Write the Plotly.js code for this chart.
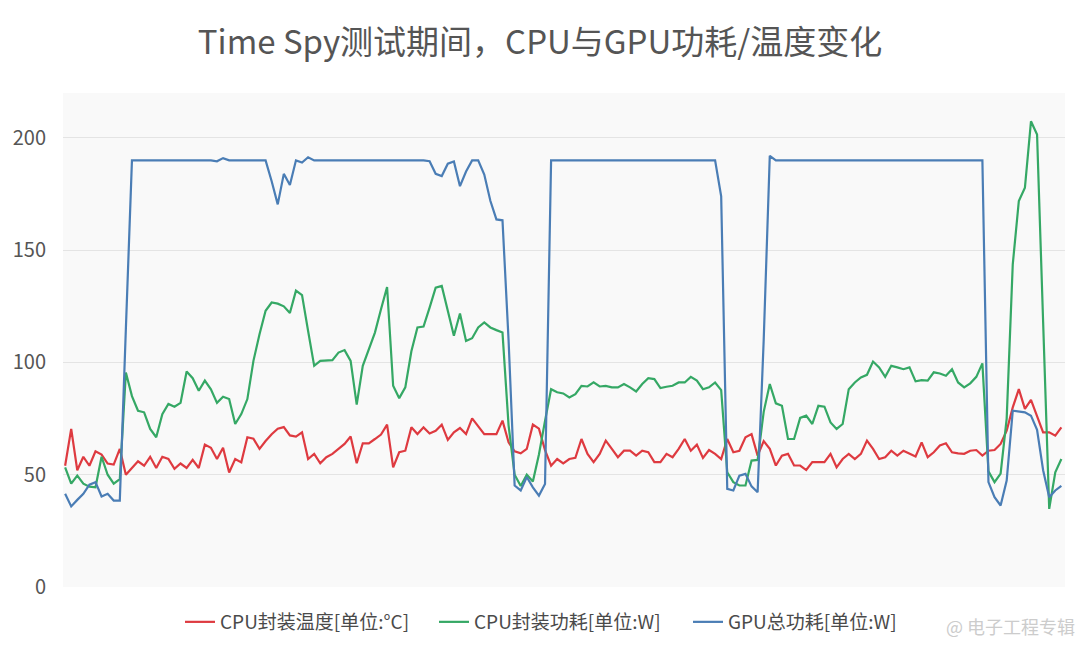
<!DOCTYPE html>
<html>
<head>
<meta charset="utf-8">
<script src="https://cdn.plot.ly/plotly-3.0.1.min.js"></script>
<style>html,body{margin:0;padding:0;background:#fff;}#chart{width:1080px;height:650px;}</style>
</head>
<body>
<div id="chart"></div>
<script>
var chartTitle = "Time Spy测试期间，CPU与GPU功耗/温度变化";
var seriesNames = ["CPU封装温度[单位:°C]", "CPU封装功耗[单位:W]", "GPU总功耗[单位:W]"];
var yTicks = [0, 50, 100, 150, 200];

var cpuTemp = [54,70.4,52,58,54,60.4,59,55,54.5,61.5,50,53,56,54,58,53,58,57,52.6,55,53,56.6,53,63.4,62,57,62,51,57,55.5,
66.7,66,61.5,65,68,70.5,71.2,67.5,67,68.9,57,59.3,55.1,57.8,59.3,61.5,63.7,67,55.1,64,64,65.9,67.9,72.3,53.3,60,60.7,71.1,68.1,71.1,
68.4,69.6,72.3,65.5,68.9,70.8,68.1,75.1,71.4,68.1,68.1,68.1,74.1,64.4,60.4,59.5,61.5,72.3,70.5,61,54,57,55,57,57.5,65.9,59.3,55.6,59.3,65.2,
61.5,57.8,60.7,60.7,58.5,60.7,60,55.6,55.6,59.3,57.8,61.5,65.9,60.7,63.4,57.5,61,59.3,57,65.9,60,60.7,66.7,68.1,58.5,65,61.5,54.1,58.5,59.3,
54.1,54.1,52.1,55.6,55.6,55.6,59.3,53.3,57,59.3,57,59.3,65.2,61.5,57,57.8,60.7,58.5,60.7,59.3,58.1,64.4,57.8,60,63,64,60,59.5,59.3,60.7,
61,58.5,60.7,61,63.7,69.6,80,88.1,79.3,83.3,75.6,68.9,68.9,67.4,71.1];

var cpuPower = [53.3,46,49.6,46,44.7,44.4,58,50,46,48,95.5,85,78.5,77.8,70.4,66.7,77,81.5,80.3,82,96,93,87.4,91.9,88,82,84.7,83.7,72.6,77,
83.7,100.7,112.6,123,126.7,126.2,125,122,132,130,114,98.5,100.7,101,101,104.4,105.5,100.7,81.2,98.5,106,113.3,123.7,133.6,89.6,84.1,88.9,105,115.6,116,
124.4,133.3,134.1,123,111.9,121.8,109.6,110.8,115.6,117.8,115.6,114.4,113.3,72,50,45,50,47,59,74,88.1,86.7,86.2,84.4,85.9,89.6,89.3,91.1,89.3,89.6,
88.9,88.9,90.4,88.9,87.1,90.4,93,92.6,88.6,89.2,89.6,91.1,91.1,93.6,91.9,88.1,88.9,91.1,87.7,51.1,46.7,45.2,45.2,56.3,56.6,78,90.4,81.8,80.7,65.9,
65.9,75.3,76.3,72.6,80.7,80.3,73.3,70.4,72.6,88.1,91.1,93.3,94.5,100.4,97.8,93.6,98.5,97.8,97,97.8,91.6,92.1,91.9,95.6,95.1,94.1,97,91.1,88.9,90.7,
93.6,99.6,51.5,46.7,50.5,75,143.7,171.9,177.8,207.4,201.5,118,34.8,51.1,57];

var gpuPower = [41.5,35.9,38.8,41.5,45.6,46.7,40.3,41.5,38.5,38.5,115,190,190,190,190,190,190,190,190,190,190,190,190,190,190,189.6,191,190,190,190,
190,190,190,190,180.7,170.4,184,179,190,189,191.4,190,190,190,190,190,190,190,190,190,190,190,190,190,190,190,190,190,190,190,
189.6,184,183,188.5,189.5,178.5,185,190,190,183.7,172,163.7,163.3,110,45.2,43,49,44.4,40.7,45.9,190,190,190,190,190,190,190,190,190,190,
190,190,190,190,190,190,190,190,190,190,190,190,190,190,190,190,190,190,174,43.7,43,49.6,50.4,44.8,42.2,110,192,190,190,190,
190,190,190,190,190,190,190,190,190,190,190,190,190,190,190,190,190,190,190,190,190,190,190,190,190,190,190,190,190,190,
190,190,46.7,40,36.3,47.4,78.5,78.2,77.8,76.3,70,52,40,43,45];

var xIdx = cpuTemp.map(function(_, i){ return i; });

var colors = ["#de3a40", "#35a865", "#4a7db5"];
var allSeries = [cpuTemp, cpuPower, gpuPower];
var traces = allSeries.map(function(ys, k){
  return {
    x: xIdx, y: ys, type: "scatter", mode: "lines", name: seriesNames[k],
    line: {color: colors[k], width: 2.2, shape: "linear"}
  };
});

var layout = {
  width: 1080, height: 650,
  margin: {l: 63, r: 15, t: 93, b: 63},
  paper_bgcolor: "#ffffff",
  plot_bgcolor: "#f9f9f9",
  font: {family: "'Noto Sans CJK SC', 'Noto Sans', sans-serif", color: "#595959"},
  title: {
    text: chartTitle,
    font: {size: 33, color: "#555555", family: "'Noto Sans CJK SC', sans-serif"},
    x: 0.5, xanchor: "center", xref: "container",
    y: 1 - 42/650, yanchor: "middle", yref: "container"
  },
  xaxis: {
    range: [-0.35, 164.6],
    showgrid: false, zeroline: false, showline: false,
    showticklabels: false, ticks: ""
  },
  yaxis: {
    range: [0, 220],
    tickvals: yTicks,
    ticktext: yTicks.map(String),
    showgrid: true, gridcolor: "#e4e4e4", gridwidth: 1,
    zeroline: false, showline: false, ticks: "",
    tickfont: {size: 20, color: "#555555"},
    ticklabelstandoff: 16
  },
  showlegend: true,
  legend: {
    orientation: "h",
    x: (180 - 63) / 1002, xanchor: "left", xref: "paper",
    y: 1 - 622/650, yanchor: "middle", yref: "container",
    font: {size: 19, color: "#4a4a4a"},
    itemwidth: 30,
    entrywidth: 209, entrywidthmode: "pixels",
    traceorder: "normal",
    bgcolor: "rgba(0,0,0,0)"
  },
  annotations: [{
    text: "@ 电子工程专辑",
    xref: "paper", yref: "paper",
    x: 1.012, xanchor: "right",
    y: (587 - 626) / 494, yanchor: "middle",
    showarrow: false,
    font: {size: 18, color: "#cccccc", family: "'Noto Sans CJK SC', sans-serif"}
  }]
};

Plotly.newPlot("chart", traces, layout, {staticPlot: true, displayModeBar: false});
</script>
</body>
</html>
